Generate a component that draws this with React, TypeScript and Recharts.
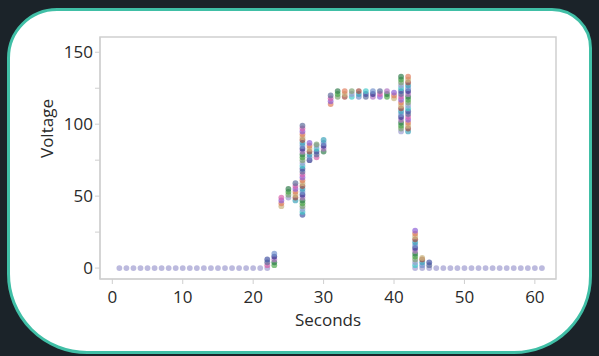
import { Cell, ReferenceArea, Scatter, ScatterChart, XAxis, YAxis } from "recharts";

// seconds where the trace sits flat at zero
const ZERO_SECONDS = [
  1, 2, 3, 4, 5, 6, 7, 8, 9, 10, 11, 12, 13, 14, 15, 16, 17, 18, 19, 20, 21,
  46, 47, 48, 49, 50, 51, 52, 53, 54, 55, 56, 57, 58, 59, 60, 61,
];

// seconds with a spread of readings, and the readings at each of them
const ACTIVE_SECONDS = [22, 23, 24, 25, 26, 27, 28, 29, 30, 31, 32, 33, 34, 35, 36, 37, 38, 39, 40, 41, 42, 43, 44, 45];
const ACTIVE_READINGS: number[][] = [
  [0, 2, 4, 6],
  [2, 4, 6, 8, 10],
  [43, 45, 47, 49],
  [49, 51, 53, 55],
  [47, 49, 51, 53, 55, 57, 59],
  [37, 39, 41, 43, 45, 47, 49, 51, 53, 55, 57, 59, 61, 63, 65, 67, 69, 71, 73, 75, 77, 79, 81, 83, 85, 87, 89, 91, 93, 95, 97, 99],
  [75, 77, 79, 81, 83, 85, 87],
  [77, 79, 81, 83, 85, 86],
  [81, 83, 85, 87, 89],
  [114, 116, 118, 120],
  [119, 121, 123],
  [119, 121, 123],
  [119, 121, 123],
  [119, 121, 123],
  [119, 121, 123],
  [119, 121, 123],
  [119, 121, 123],
  [119, 121, 123],
  [118, 120, 122],
  [95, 97, 99, 101, 103, 105, 107, 109, 111, 113, 115, 117, 119, 121, 123, 125, 127, 129, 131, 133],
  [95, 97, 99, 101, 103, 105, 107, 109, 111, 113, 115, 117, 119, 121, 123, 125, 127, 129, 131, 133],
  [0, 2, 4, 6, 8, 10, 12, 14, 16, 18, 20, 22, 24, 26],
  [0, 2, 4, 6, 7],
  [0, 2, 4],
];

const X_TICKS = [0, 10, 20, 30, 40, 50, 60];
const Y_TICKS = [0, 25, 50, 75, 100, 125, 150];

const PALETTE = [
  "#8a5cd6", "#a0483c", "#2b2f8c", "#4aa84a", "#3ec9c9", "#d95fa8",
  "#c9b27a", "#6f8fcc", "#2e7a4a", "#9b9bd0", "#5a6a9a", "#e07a5a",
  "#38a0b8", "#b070c0", "#7aa070", "#4050a0",
];
const ZERO_COLOR = "#9c9ace";
const TEXT = "#2a2a2a";
const LINE = "#cfcfcf";
const X_DOMAIN: [number, number] = [-1.75, 63];
const Y_DOMAIN: [number, number] = [-7.6, 160.6];

const zeroPoints = ZERO_SECONDS.map((s) => ({ s, v: 0, c: ZERO_COLOR }));
const activePoints = ACTIVE_SECONDS.flatMap((s, i) =>
  ACTIVE_READINGS[i].map((v, j) => ({
    s,
    v,
    c: v === 0 ? ZERO_COLOR : PALETTE[(j * 5 + i * 3) % PALETTE.length],
  }))
);
const points = [...zeroPoints, ...activePoints];

const Dot = (props: any) => (
  <circle cx={props.cx} cy={props.cy} r={2.9} fill={props.payload.c} fillOpacity={0.68} />
);

export default function App() {
  return (
    <div
      style={{
        position: "absolute",
        left: 0,
        top: 0,
        width: 599,
        height: 356,
        background: "#1b2329",
        fontFamily: "'Open Sans', sans-serif",
      }}
    >
      <div
        style={{
          position: "absolute",
          left: 7,
          top: 8,
          width: 585,
          height: 346,
          boxSizing: "border-box",
          border: "3px solid #40bfa6",
          borderRadius: "50px 40px 78px 80px",
          background: "#fff",
        }}
      />
      <div style={{ position: "absolute", left: 0, top: 0 }}>
        <ScatterChart
          width={599}
          height={356}
          margin={{ top: 37, right: 43, left: 40, bottom: 27 }}
        >
          <XAxis
            type="number"
            dataKey="s"
            domain={X_DOMAIN}
            ticks={X_TICKS}
            allowDataOverflow
            height={50}
            tickSize={5}
            tickMargin={7}
            stroke={LINE}
            tick={{ fill: TEXT, fontSize: 17 }}
            label={{ value: "Seconds", position: "insideBottom", offset: 3, fill: TEXT, fontSize: 17 }}
          />
          <YAxis
            type="number"
            dataKey="v"
            domain={Y_DOMAIN}
            ticks={Y_TICKS}
            allowDataOverflow
            width={60}
            tickSize={5}
            stroke={LINE}
            tickFormatter={(t: number) => (t % 50 === 0 ? String(t) : "")}
            tick={{ fill: TEXT, fontSize: 17 }}
            label={{ value: "Voltage", angle: -90, position: "insideLeft", offset: 0, dx: 7, fill: TEXT, fontSize: 17 }}
          />
          <ReferenceArea
            x1={X_DOMAIN[0]}
            x2={X_DOMAIN[1]}
            y1={Y_DOMAIN[0]}
            y2={Y_DOMAIN[1]}
            fill="none"
            stroke={LINE}
            strokeWidth={1.5}
          />
          <Scatter data={points} isAnimationActive={false} shape={Dot}>
            {points.map((p, i) => (
              <Cell key={i} fill={p.c} />
            ))}
          </Scatter>
        </ScatterChart>
      </div>
    </div>
  );
}
